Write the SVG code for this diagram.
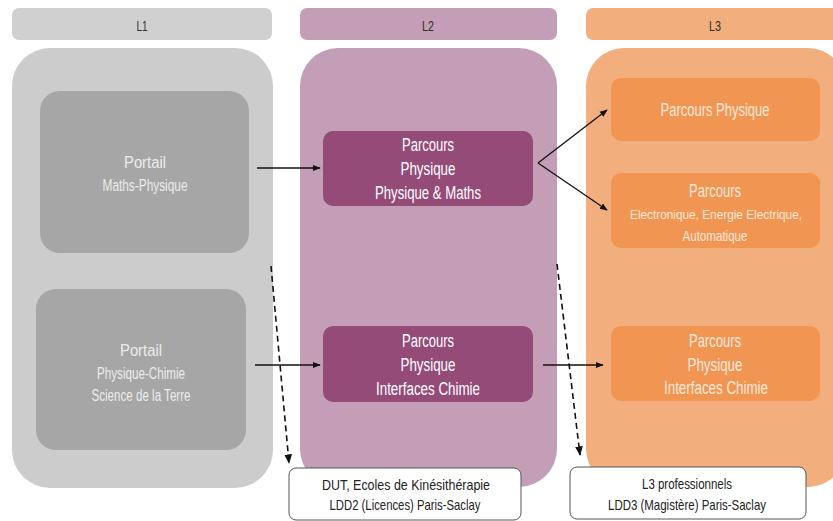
<svg xmlns="http://www.w3.org/2000/svg" width="833" height="521" viewBox="0 0 833 521">
<defs>
<style>
text{font-family:"Liberation Sans",Arial,sans-serif;text-anchor:middle;dominant-baseline:central}
.hdr{font-size:15px;fill:#2e2e2e}
.g{fill:#ececec;font-size:16px}
.w{fill:#ffffff;font-size:18px}
.o{fill:#fde9da;font-size:18px}
.os{fill:#fde9da;font-size:15px}
.ose{fill:#fde9da;font-size:13px}
.b{fill:#222222;font-size:14.5px}
.conn{stroke:#111111;stroke-width:1.3;fill:none}
.dash{stroke:#111111;stroke-width:1.6;fill:none;stroke-dasharray:6 4}
</style>
<marker id="ah" viewBox="0 0 10 10" refX="9" refY="5" markerWidth="6" markerHeight="6" orient="auto">
<path d="M0,1 L10,5 L0,9 Z" fill="#111111"/>
</marker>
</defs>
<rect width="833" height="521" fill="#ffffff"/>
<g id="col-L1">
<rect x="12" y="8" width="260" height="32" rx="7" fill="#d0d0d0"/>
<text class="hdr" x="142" y="25" textLength="11" lengthAdjust="spacingAndGlyphs">L1</text>
<rect x="12" y="48" width="261" height="440" rx="38" fill="#cccccc"/>
</g>
<g id="col-L2">
<rect x="300" y="8" width="257" height="32" rx="7" fill="#c49eb6"/>
<text class="hdr" x="428" y="25" textLength="12" lengthAdjust="spacingAndGlyphs">L2</text>
<rect x="300" y="48" width="257" height="439" rx="38" fill="#c49eb6"/>
</g>
<g id="col-L3">
<rect x="586" y="8" width="260" height="32" rx="7" fill="#f3ae7d"/>
<text class="hdr" x="715" y="25" textLength="12" lengthAdjust="spacingAndGlyphs">L3</text>
<rect x="586" y="48" width="260" height="439" rx="38" fill="#f3ae7d"/>
</g>
<g id="portail-mp">
<rect x="40" y="91" width="209" height="162" rx="20" fill="#a6a6a6"/>
<text class="g" x="145" y="162" textLength="42" lengthAdjust="spacingAndGlyphs">Portail</text>
<text class="g" x="145" y="185" textLength="85" lengthAdjust="spacingAndGlyphs">Maths-Physique</text>
</g>
<g id="portail-pc">
<rect x="36" y="289" width="210" height="161" rx="20" fill="#a6a6a6"/>
<text class="g" x="141" y="350" textLength="42" lengthAdjust="spacingAndGlyphs">Portail</text>
<text class="g" x="141" y="373" textLength="88" lengthAdjust="spacingAndGlyphs">Physique-Chimie</text>
<text class="g" x="141" y="395" textLength="99" lengthAdjust="spacingAndGlyphs">Science de la Terre</text>
</g>
<g id="l2-pm">
<rect x="323" y="131" width="210" height="75" rx="10" fill="#944b78"/>
<text class="w" x="428" y="145" textLength="52" lengthAdjust="spacingAndGlyphs">Parcours</text>
<text class="w" x="428" y="169" textLength="55" lengthAdjust="spacingAndGlyphs">Physique</text>
<text class="w" x="428" y="193" textLength="106" lengthAdjust="spacingAndGlyphs">Physique &amp; Maths</text>
</g>
<g id="l2-pc">
<rect x="323" y="326" width="210" height="76" rx="10" fill="#944b78"/>
<text class="w" x="428" y="341" textLength="52" lengthAdjust="spacingAndGlyphs">Parcours</text>
<text class="w" x="428" y="365" textLength="55" lengthAdjust="spacingAndGlyphs">Physique</text>
<text class="w" x="428" y="389" textLength="104" lengthAdjust="spacingAndGlyphs">Interfaces Chimie</text>
</g>
<g id="l3-p">
<rect x="611" y="78" width="209" height="63" rx="10" fill="#f19553"/>
<text class="o" x="715" y="110" textLength="109" lengthAdjust="spacingAndGlyphs">Parcours Physique</text>
</g>
<g id="l3-eea">
<rect x="611" y="173" width="209" height="75" rx="10" fill="#f19553"/>
<text class="o" x="715" y="191" textLength="52" lengthAdjust="spacingAndGlyphs">Parcours</text>
<text class="ose" x="716" y="214" textLength="172" lengthAdjust="spacingAndGlyphs">Electronique, Energie Electrique,</text>
<text class="os" x="715" y="235" textLength="65" lengthAdjust="spacingAndGlyphs">Automatique</text>
</g>
<g id="l3-pc">
<rect x="611" y="326" width="209" height="75" rx="10" fill="#f19553"/>
<text class="o" x="715" y="341" textLength="52" lengthAdjust="spacingAndGlyphs">Parcours</text>
<text class="o" x="715" y="365" textLength="55" lengthAdjust="spacingAndGlyphs">Physique</text>
<text class="o" x="716" y="388" textLength="104" lengthAdjust="spacingAndGlyphs">Interfaces Chimie</text>
</g>
<g id="out-l2">
<rect x="289" y="468" width="232" height="52" rx="7" fill="#ffffff" stroke="#555555" stroke-width="1"/>
<text class="b" x="406" y="485" textLength="168" lengthAdjust="spacingAndGlyphs">DUT, Ecoles de Kinésithérapie</text>
<text class="b" x="405" y="505" textLength="151" lengthAdjust="spacingAndGlyphs">LDD2 (Licences) Paris-Saclay</text>
</g>
<g id="out-l3">
<rect x="570" y="467" width="236" height="52" rx="7" fill="#ffffff" stroke="#555555" stroke-width="1"/>
<text class="b" x="687" y="484" textLength="90" lengthAdjust="spacingAndGlyphs">L3 professionnels</text>
<text class="b" x="687" y="505" textLength="158" lengthAdjust="spacingAndGlyphs">LDD3 (Magistère) Paris-Saclay</text>
</g>
<g id="connectors">
<line class="conn" x1="257" y1="168" x2="320" y2="168" marker-end="url(#ah)"/>
<line class="conn" x1="255" y1="365" x2="320" y2="365" marker-end="url(#ah)"/>
<line class="conn" x1="538" y1="163" x2="607" y2="110" marker-end="url(#ah)"/>
<line class="conn" x1="538" y1="163" x2="607" y2="210" marker-end="url(#ah)"/>
<line class="conn" x1="543" y1="365" x2="603" y2="365" marker-end="url(#ah)"/>
<line class="dash" x1="271" y1="266" x2="289" y2="463" marker-end="url(#ah)"/>
<line class="dash" x1="557" y1="264" x2="580" y2="455" marker-end="url(#ah)"/>
</g>
</svg>
